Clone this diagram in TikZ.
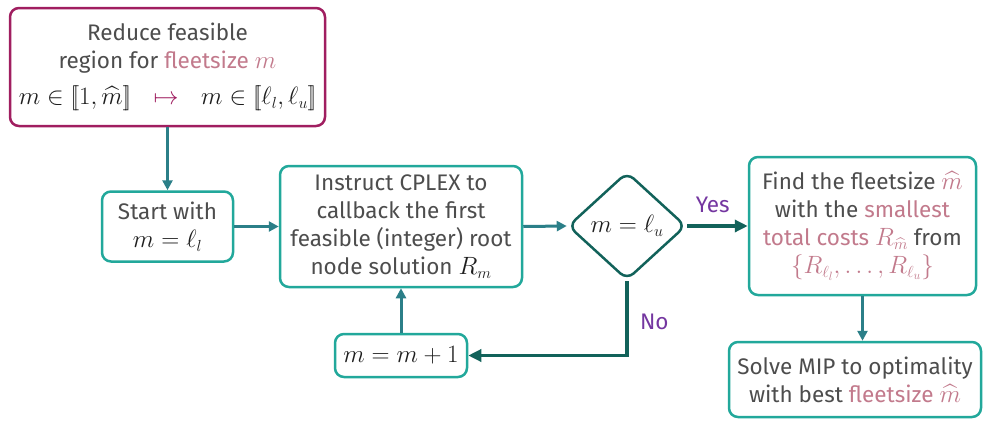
\RequirePackage{fix-cm}
\documentclass[tikz,border=0pt]{standalone}
\usepackage{amsmath,amssymb}
\usepackage[no-math]{fontspec}
\setmainfont{Fira Sans}
\usetikzlibrary{shapes.geometric,arrows.meta}

% larger math beside the sans text
\DeclareMathSizes{22.5}{25}{16}{12}

\definecolor{txtgray}{HTML}{4D4D4D}
\definecolor{mathdark}{HTML}{1E1E1E}
\definecolor{hlpink}{HTML}{C27A8C}
\definecolor{labpurple}{HTML}{7436A0}
\definecolor{boxteal}{HTML}{22A89B}
\definecolor{boxmagenta}{HTML}{A01E60}
\definecolor{arrteal}{HTML}{2B7F88}
\definecolor{darkgreen}{HTML}{12625A}

\newcommand{\hl}[1]{\textcolor{hlpink}{#1}}
\newcommand{\mth}[1]{\textcolor{mathdark}{$#1$}}
\newcommand{\dblopen}{\mathopen{[\mkern-3mu[}}
\newcommand{\dblclose}{\mathclose{]\mkern-3mu]}}

\begin{document}
\begin{tikzpicture}[x=1pt,y=-1pt,
  every node/.style={font=\fontsize{22.5}{28}\selectfont, text=txtgray},
  procbox/.style={draw=boxteal, line width=2.5pt, rounded corners=9pt, fill=white,
    align=center, inner sep=0pt, anchor=center},
  flow/.style={draw=arrteal, line width=3pt, -{Triangle[length=10pt,width=10pt]}},
  decide/.style={draw=darkgreen, line width=3.5pt, -{Triangle[length=13pt,width=12pt]}},
  lab/.style={text=labpurple}]

\useasboundingbox (0,0) rectangle (986,421);

% reduction of the fleet size range
\node[procbox, draw=boxmagenta, minimum width=315pt, minimum height=118pt] (reduce) at (167.5,67)
  {Reduce feasible\\ region for \hl{fleetsize $m$}\\[8pt]
   \mth{m\in\dblopen 1,\widehat{m}\dblclose}\quad
   \textcolor{boxmagenta}{$\mapsto$}\quad
   \mth{m\in\dblopen \ell_l,\ell_u\dblclose}};

\node[procbox, minimum width=131pt, minimum height=70pt] (start) at (167.5,226.5)
  {Start with\\ \mth{m=\ell_l}};

\node[procbox, minimum width=242pt, minimum height=121pt] (cplex) at (401,226.5)
  {Instruct CPLEX to\\ callback the first\\ feasible (integer) root\\ node solution \mth{R_m}};

\node[draw=darkgreen, line width=2.5pt, shape=diamond, rounded corners=9pt, inner sep=0pt,
  minimum width=118pt, minimum height=108pt, fill=white] (check) at (627,226)
  {\mth{m=\ell_u}};

\node[procbox, minimum width=227pt, minimum height=138pt] (find) at (862.5,226)
  {Find the fleetsize \hl{$\widehat{m}$}\\ with the \hl{smallest}\\
   \hl{total costs $R_{\widehat{m}}$} from\\ \hl{$\{R_{\ell_l},\dots,R_{\ell_u}\}$}};

\node[procbox, minimum width=132pt, minimum height=43pt] (incr) at (401,355.5)
  {\mth{m=m+1}};

\node[procbox, minimum width=252pt, minimum height=75pt] (solve) at (855,379.5)
  {Solve MIP to optimality\\ with best \hl{fleetsize $\widehat{m}$}};

% connectors
\draw[flow] (reduce.south) -- (start.north);
\draw[flow] (start.east) -- (cplex.west);
\draw[flow] (cplex.east) -- (check.west);
\draw[decide] (check.east) -- node[lab, above=8pt, pos=0.42] {Yes} (find.west);
\coordinate (turn) at (check.south |- incr.east);
\draw[decide] (check.south) -- node[lab, right=8pt, pos=0.55] {No} (turn) -- (incr.east);
\draw[flow] (incr.north) -- (cplex.south);
\draw[flow] (find.south) -- (find.south |- solve.north);

\end{tikzpicture}
\end{document}
